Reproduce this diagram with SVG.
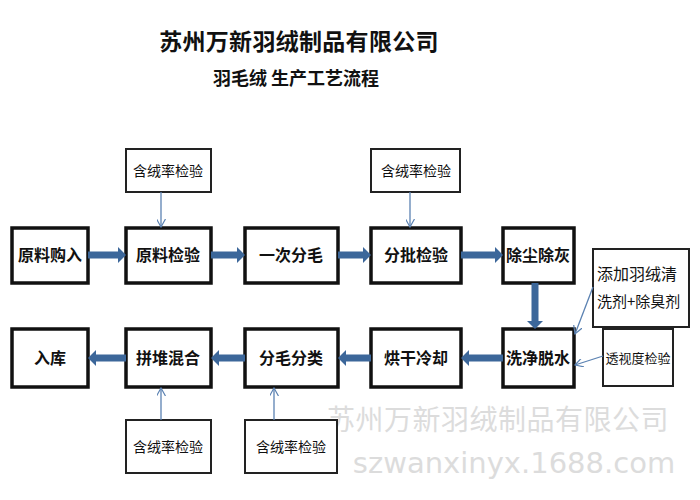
<svg xmlns="http://www.w3.org/2000/svg" width="700" height="500" viewBox="0 0 700 500">
<style>
text{font-family:"Noto Sans CJK SC","Noto Sans CJK JP",sans-serif;fill:#111;text-anchor:middle}
.main rect{fill:#fff;stroke:#111;stroke-width:3.5}
.main text{font-size:16px;font-weight:bold}
.chk rect{fill:#fff;stroke:#222;stroke-width:2}
.chk text{font-size:14px}
.thick{fill:#3c679a}
.thin{stroke:#5b82b2;stroke-width:1.3;fill:none}
.wm{fill:#dcdcdc;font-family:"Noto Sans CJK SC","DejaVu Sans",sans-serif}
</style>
<defs>
<marker id="va" viewBox="0 0 10 10" refX="9" refY="5" markerWidth="9" markerHeight="9" markerUnits="userSpaceOnUse" orient="auto">
<path d="M0,0 L9,5 L0,10" fill="none" stroke="#5b82b2" stroke-width="1.3"/>
</marker>
</defs>
<rect width="700" height="500" fill="#fff"/>
<g id="title">
<text x="299" y="50" style="font-size:23px;font-weight:bold;letter-spacing:0.3px">苏州万新羽绒制品有限公司</text>
<text x="296" y="85" style="font-size:18px;font-weight:bold">羽毛绒 生产工艺流程</text>
</g>
<g id="watermark">
<text class="wm" x="498" y="430" style="font-size:28px;letter-spacing:0.5px">苏州万新羽绒制品有限公司</text>
<text class="wm" x="514" y="473" style="font-size:29px;font-family:'DejaVu Sans',sans-serif">szwanxinyx.1688.com</text>
</g>
<g id="n1" class="main"><rect x="12" y="228" width="76" height="55"/><text x="50" y="261">原料购入</text></g>
<g id="n2" class="main"><rect x="126" y="228" width="85" height="55"/><text x="168" y="261">原料检验</text></g>
<g id="n3" class="main"><rect x="245" y="228" width="93" height="55"/><text x="291" y="261">一次分毛</text></g>
<g id="n4" class="main"><rect x="371" y="228" width="90" height="55"/><text x="416" y="261">分批检验</text></g>
<g id="n5" class="main"><rect x="503" y="228" width="71" height="55"/><text x="538" y="261">除尘除灰</text></g>
<g id="n6" class="main"><rect x="503" y="329" width="71" height="58"/><text x="538" y="364">洗净脱水</text></g>
<g id="n7" class="main"><rect x="371" y="329" width="90" height="58"/><text x="416" y="364">烘干冷却</text></g>
<g id="n8" class="main"><rect x="245" y="329" width="93" height="58"/><text x="291" y="364">分毛分类</text></g>
<g id="n9" class="main"><rect x="126" y="329" width="85" height="58"/><text x="168" y="364">拼堆混合</text></g>
<g id="n10" class="main"><rect x="12" y="329" width="76" height="58"/><text x="50" y="364">入库</text></g>
<g id="c1" class="chk"><rect x="126" y="149" width="85" height="43"/><text x="168" y="176">含绒率检验</text></g>
<g id="c2" class="chk"><rect x="371" y="149" width="89" height="43"/><text x="416" y="176">含绒率检验</text></g>
<g id="c3" class="chk"><rect x="593" y="249" width="96" height="78"/>
<text x="597" y="280" style="font-size:16px;text-anchor:start">添加羽绒清</text>
<text x="597" y="307" style="font-size:15px;text-anchor:start">洗剂+除臭剂</text></g>
<g id="c4" class="chk"><rect x="603" y="329" width="70" height="57"/><text x="638" y="363" style="font-size:13px">透视度检验</text></g>
<g id="c5" class="chk"><rect x="126" y="420" width="85" height="53"/><text x="168" y="452">含绒率检验</text></g>
<g id="c6" class="chk"><rect x="245" y="420" width="92" height="53"/><text x="291" y="452">含绒率检验</text></g>
<g id="connectors">
<path class="thick" d="M88,251.5 H118 V247 L126,255 L118,263 V258.5 H88 Z"/>
<path class="thick" d="M211,251.5 H237 V247 L245,255 L237,263 V258.5 H211 Z"/>
<path class="thick" d="M338,251.5 H363 V247 L371,255 L363,263 V258.5 H338 Z"/>
<path class="thick" d="M461,251.5 H495 V247 L503,255 L495,263 V258.5 H461 Z"/>
<path class="thick" d="M531.5,283 V321 H527 L535,329 L543,321 H538.5 V283 Z"/>
<path class="thick" d="M503,354.5 H469 V350 L461,358 L469,366 V361.5 H503 Z"/>
<path class="thick" d="M371,354.5 H346 V350 L338,358 L346,366 V361.5 H371 Z"/>
<path class="thick" d="M245,354.5 H219 V350 L211,358 L219,366 V361.5 H245 Z"/>
<path class="thick" d="M126,354.5 H96 V350 L88,358 L96,366 V361.5 H126 Z"/>
<line class="thin" x1="161" y1="192" x2="161" y2="227" marker-end="url(#va)"/>
<line class="thin" x1="410" y1="192" x2="410" y2="227" marker-end="url(#va)"/>
<line class="thin" x1="161" y1="420" x2="161" y2="388" marker-end="url(#va)"/>
<line class="thin" x1="274" y1="420" x2="274" y2="388" marker-end="url(#va)"/>
<line class="thin" x1="593" y1="287" x2="575" y2="334" marker-end="url(#va)"/>
<line class="thin" x1="603" y1="356" x2="575" y2="365" marker-end="url(#va)"/>
</g>
</svg>
